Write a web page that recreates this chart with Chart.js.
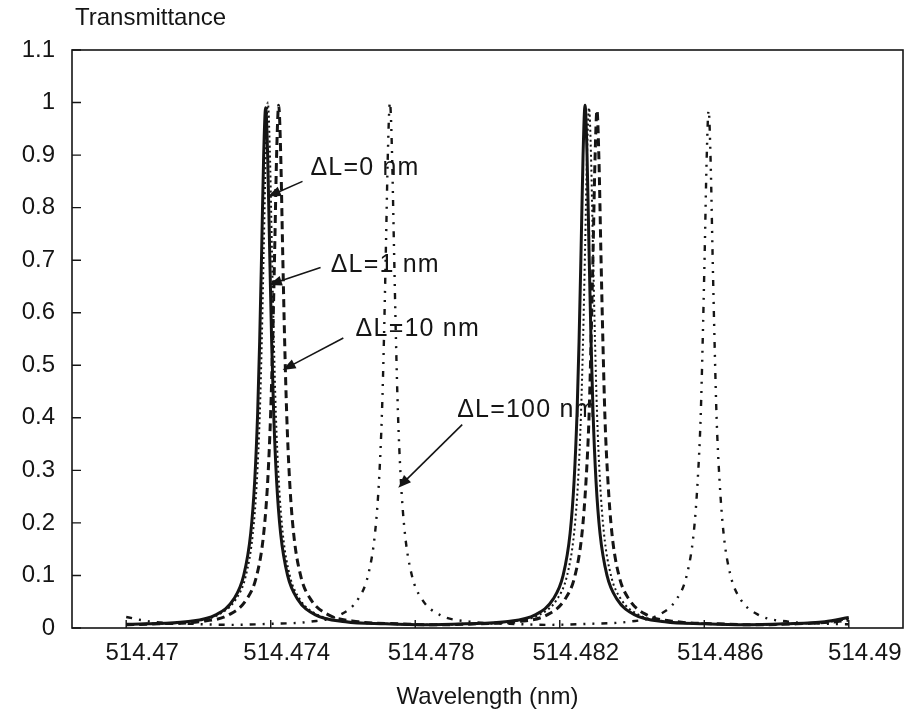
<!DOCTYPE html>
<html lang="en">
<head>
    <meta charset="UTF-8">
    <title>Transmittance vs wavelength</title>
    <script src="https://cdn.jsdelivr.net/npm/chart.js@4.4.1/dist/chart.umd.min.js"></script>
    <style>
        body { margin: 0; background: #fff; }
        #chart { display: block; }
    </style>
</head>
<body>
<canvas id="chart" width="918" height="712"></canvas>
<script>
// tick values and labels
const xTickValues = [514.47, 514.474, 514.478, 514.482, 514.486, 514.49]
const xTickLabels = ['514.47', '514.474', '514.478', '514.482', '514.486', '514.49']
const yTickValues = [0, 0.1, 0.2, 0.3, 0.4, 0.5, 0.6, 0.7, 0.8, 0.9, 1, 1.1]
const yTickLabels = ['0', '0.1', '0.2', '0.3', '0.4', '0.5', '0.6', '0.7', '0.8', '0.9', '1', '1.1']

// dL = 0 nm (solid)
const wl0 = [514.47, 514.47055, 514.47165, 514.47248, 514.472977, 514.473253, 514.473446, 514.473557, 514.473639, 514.473694, 514.47375, 514.473805, 514.47386, 514.473915, 514.47397, 514.474026, 514.474081, 514.474163, 514.474274, 514.474467, 514.474743, 514.475239, 514.476067, 514.47717, 514.47828, 514.47939, 514.480493, 514.481321, 514.481817, 514.482093, 514.482286, 514.482397, 514.482479, 514.482534, 514.48259, 514.482645, 514.4827, 514.482755, 514.48281, 514.482866, 514.482921, 514.483003, 514.483114, 514.483307, 514.483583, 514.484079, 514.484907, 514.48601, 514.48712, 514.48823, 514.489333, 514.49]
const tr0 = [0.007, 0.008, 0.012, 0.025, 0.055, 0.10, 0.18, 0.28, 0.41, 0.545, 0.72, 0.90, 0.99, 0.90, 0.72, 0.545, 0.41, 0.28, 0.18, 0.10, 0.055, 0.025, 0.012, 0.008, 0.006, 0.008, 0.012, 0.025, 0.055, 0.10, 0.18, 0.28, 0.41, 0.545, 0.72, 0.90, 0.995, 0.90, 0.72, 0.545, 0.41, 0.28, 0.18, 0.10, 0.055, 0.025, 0.012, 0.008, 0.006, 0.008, 0.012, 0.02]

// dL = 1 nm (dotted)
const wl1 = [514.47, 514.47061, 514.471713, 514.472541, 514.473037, 514.473313, 514.473506, 514.473617, 514.473699, 514.473754, 514.47381, 514.473865, 514.47392, 514.473975, 514.47403, 514.474086, 514.474141, 514.474223, 514.474334, 514.474527, 514.474803, 514.475299, 514.476127, 514.47723, 514.47836, 514.4795, 514.480603, 514.481431, 514.481927, 514.482203, 514.482396, 514.482507, 514.482589, 514.482644, 514.4827, 514.482755, 514.48281, 514.482865, 514.48292, 514.482976, 514.483031, 514.483113, 514.483224, 514.483417, 514.483693, 514.484189, 514.485017, 514.48612, 514.48726, 514.48839, 514.489493, 514.49]
const tr1 = [0.007, 0.008, 0.012, 0.025, 0.055, 0.10, 0.18, 0.28, 0.41, 0.55, 0.73, 0.91, 1.0, 0.91, 0.73, 0.55, 0.41, 0.28, 0.18, 0.10, 0.055, 0.025, 0.012, 0.008, 0.006, 0.008, 0.012, 0.025, 0.055, 0.10, 0.18, 0.28, 0.41, 0.545, 0.72, 0.90, 0.99, 0.90, 0.72, 0.545, 0.41, 0.28, 0.18, 0.10, 0.055, 0.025, 0.012, 0.008, 0.006, 0.008, 0.012, 0.018]

// dL = 10 nm (dashed)
const wl10 = [514.47, 514.47091, 514.472013, 514.472841, 514.473337, 514.473613, 514.473806, 514.473917, 514.473999, 514.474054, 514.47411, 514.474165, 514.47422, 514.474275, 514.47433, 514.474386, 514.474441, 514.474523, 514.474634, 514.474827, 514.475103, 514.475599, 514.476427, 514.47753, 514.478625, 514.47972, 514.480823, 514.481651, 514.482147, 514.482423, 514.482616, 514.482727, 514.482809, 514.482864, 514.48292, 514.482975, 514.48303, 514.483085, 514.48314, 514.483196, 514.483251, 514.483333, 514.483444, 514.483637, 514.483913, 514.484409, 514.485237, 514.48634, 514.48745, 514.48856, 514.489663, 514.49]
const tr10 = [0.006, 0.008, 0.012, 0.025, 0.055, 0.10, 0.18, 0.28, 0.41, 0.545, 0.72, 0.905, 0.995, 0.905, 0.72, 0.545, 0.41, 0.28, 0.18, 0.10, 0.055, 0.025, 0.012, 0.008, 0.006, 0.008, 0.012, 0.025, 0.055, 0.10, 0.18, 0.28, 0.40, 0.54, 0.71, 0.89, 0.985, 0.89, 0.71, 0.54, 0.40, 0.28, 0.18, 0.10, 0.055, 0.025, 0.012, 0.008, 0.006, 0.008, 0.012, 0.015]

// dL = 100 nm (dash-dot-dot)
const wl100 = [514.47, 514.470687, 514.47179, 514.47289, 514.47399, 514.475093, 514.475921, 514.476417, 514.476693, 514.476886, 514.476997, 514.477079, 514.477134, 514.47719, 514.477245, 514.4773, 514.477355, 514.47741, 514.477466, 514.477521, 514.477603, 514.477714, 514.477907, 514.478183, 514.478679, 514.479507, 514.48061, 514.48171, 514.48281, 514.483913, 514.484741, 514.485237, 514.485513, 514.485706, 514.485817, 514.485899, 514.485954, 514.48601, 514.486065, 514.48612, 514.486175, 514.48623, 514.486286, 514.486341, 514.486423, 514.486534, 514.486727, 514.487003, 514.487499, 514.488327, 514.48943, 514.49]
const tr100 = [0.021, 0.012, 0.008, 0.006, 0.008, 0.012, 0.025, 0.055, 0.10, 0.18, 0.28, 0.41, 0.55, 0.73, 0.91, 1.0, 0.91, 0.73, 0.55, 0.41, 0.28, 0.18, 0.10, 0.055, 0.025, 0.012, 0.008, 0.006, 0.008, 0.012, 0.025, 0.055, 0.10, 0.18, 0.28, 0.40, 0.54, 0.71, 0.89, 0.985, 0.89, 0.71, 0.54, 0.40, 0.28, 0.18, 0.10, 0.055, 0.025, 0.012, 0.008, 0.007]

// labels with arrows, in data units: text anchor, arrow start, arrow tip
const notes = [
    { text: '\u0394L=0 nm',   at: [514.47510, 0.876], from: [514.47488, 0.850], to: [514.47392, 0.821] },
    { text: '\u0394L=1 nm',   at: [514.47566, 0.691], from: [514.47538, 0.686], to: [514.47395, 0.653] },
    { text: '\u0394L=10 nm',  at: [514.47635, 0.568], from: [514.47601, 0.552], to: [514.47433, 0.491] },
    { text: '\u0394L=100 nm', at: [514.47916, 0.415], from: [514.47930, 0.387], to: [514.47753, 0.267] }
]

const FONT = '"Liberation Sans", Arial, Helvetica, sans-serif'
const INK = '#151515'

function points(xs, ys) {
    return xs.map((x, i) => ({ x: x, y: ys[i] }))
}

function arrow(ctx, x1, y1, x2, y2) {
    const a = Math.atan2(y2 - y1, x2 - x1)
    const len = 13, half = 5
    ctx.beginPath()
    ctx.moveTo(x1, y1)
    ctx.lineTo(x2 - Math.cos(a) * len * 0.8, y2 - Math.sin(a) * len * 0.8)
    ctx.stroke()
    ctx.beginPath()
    ctx.moveTo(x2, y2)
    ctx.lineTo(x2 - Math.cos(a) * len + Math.sin(a) * half, y2 - Math.sin(a) * len - Math.cos(a) * half)
    ctx.lineTo(x2 - Math.cos(a) * len - Math.sin(a) * half, y2 - Math.sin(a) * len + Math.cos(a) * half)
    ctx.closePath()
    ctx.fill()
}

const frame = {
    id: 'frame',
    afterDraw(chart) {
        const { ctx, chartArea: a, scales } = chart
        const sx = scales.x, sy = scales.y
        ctx.save()
        ctx.strokeStyle = INK
        ctx.fillStyle = INK
        ctx.lineWidth = 1.6
        ctx.strokeRect(a.left, a.top, a.right - a.left, a.bottom - a.top)

        // inward tick marks
        ctx.lineWidth = 1.4
        ctx.beginPath()
        yTickValues.forEach(v => {
            const y = sy.getPixelForValue(v)
            ctx.moveTo(a.left, y)
            ctx.lineTo(a.left + 9, y)
        })
        xTickValues.forEach(v => {
            const x = sx.getPixelForValue(v)
            ctx.moveTo(x, a.bottom)
            ctx.lineTo(x, a.bottom - 8)
        })
        ctx.stroke()

        // axis titles
        ctx.font = '24px ' + FONT
        ctx.textBaseline = 'middle'
        ctx.textAlign = 'left'
        ctx.fillText('Transmittance', a.left + 3, a.top - 32)
        ctx.textAlign = 'center'
        ctx.fillText('Wavelength (nm)', (a.left + a.right) / 2, a.bottom + 69)

        // curve labels
        ctx.font = '25px ' + FONT
        ctx.textAlign = 'left'
        ctx.letterSpacing = '1.2px'
        ctx.lineWidth = 1.6
        notes.forEach(n => {
            ctx.fillText(n.text, sx.getPixelForValue(n.at[0]), sy.getPixelForValue(n.at[1]))
            arrow(ctx,
                sx.getPixelForValue(n.from[0]), sy.getPixelForValue(n.from[1]),
                sx.getPixelForValue(n.to[0]), sy.getPixelForValue(n.to[1]))
        })
        ctx.restore()
    }
}

function line(label, xs, ys, width, dash) {
    return {
        label: label,
        data: points(xs, ys),
        borderColor: INK,
        borderWidth: width,
        borderDash: dash,
        pointRadius: 0,
        fill: false,
        cubicInterpolationMode: 'monotone'
    }
}

const chart = new Chart(document.getElementById('chart').getContext('2d'), {
    type: 'line',
    data: {
        datasets: [
            line('\u0394L=100 nm', wl100, tr100, 2.4, [6, 7, 2, 7, 2, 7]),
            line('\u0394L=10 nm', wl10, tr10, 3, [8, 5]),
            line('\u0394L=1 nm', wl1, tr1, 2, [2, 3]),
            line('\u0394L=0 nm', wl0, tr0, 3, [])
        ]
    },
    options: {
        responsive: false,
        animation: false,
        devicePixelRatio: 1,
        layout: { padding: { left: 0, right: 15, top: 50, bottom: 0 } },
        plugins: {
            legend: { display: false },
            tooltip: { enabled: false }
        },
        scales: {
            x: {
                type: 'linear',
                min: 514.4685,
                max: 514.4915,
                grid: { display: false, drawTicks: false },
                border: { display: false },
                afterBuildTicks: s => { s.ticks = xTickValues.map(v => ({ value: v })) },
                afterFit: s => { s.height = 84 },
                ticks: {
                    autoSkip: false,
                    maxRotation: 0,
                    padding: 11,
                    labelOffset: 16,
                    color: INK,
                    font: { family: FONT, size: 24 },
                    callback: (v, i) => xTickLabels[i]
                }
            },
            y: {
                min: 0,
                max: 1.1,
                grid: { display: false, drawTicks: false },
                border: { display: false },
                afterBuildTicks: s => { s.ticks = yTickValues.map(v => ({ value: v })) },
                afterFit: s => { s.width = 72 },
                ticks: {
                    autoSkip: false,
                    padding: 17,
                    color: INK,
                    font: { family: FONT, size: 24 },
                    callback: (v, i) => yTickLabels[i]
                }
            }
        }
    },
    plugins: [frame]
})
</script>
</body>
</html>
